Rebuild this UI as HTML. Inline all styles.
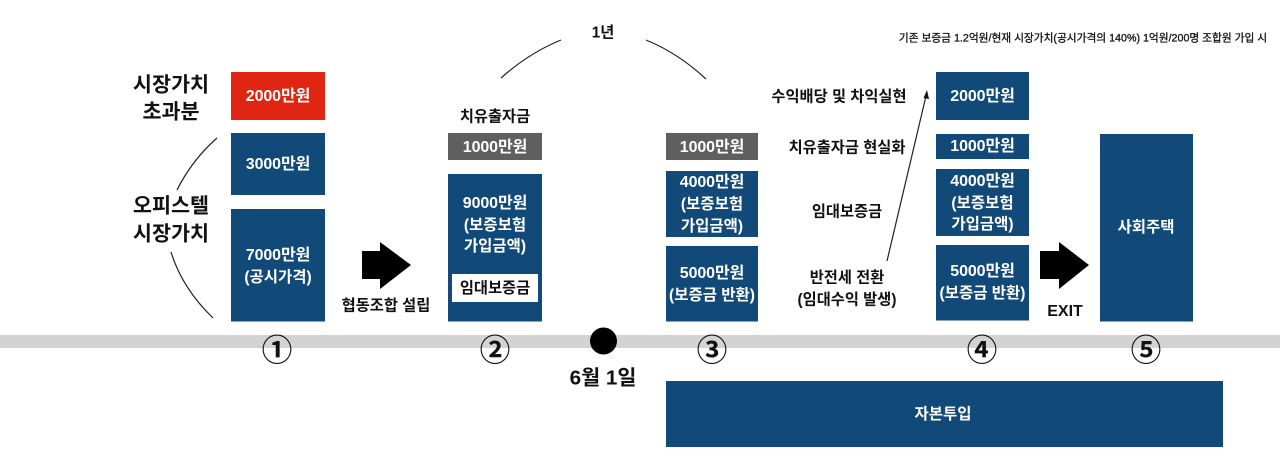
<!DOCTYPE html>
<html lang="ko">
<head>
<meta charset="utf-8">
<style>
html,body{margin:0;padding:0;background:#fff;width:1280px;height:466px;overflow:hidden}
svg{display:block}
text{font-family:"Liberation Sans","Noto Sans CJK KR",sans-serif;font-weight:700;text-anchor:middle;dominant-baseline:central}
.w{fill:#fff;font-size:15.5px;transform:translateY(.7px)}
.m{font-size:16px;letter-spacing:-.1px}
.k{fill:#111;font-size:15.3px;transform:translateY(.8px)}
.h{fill:#111;font-size:20.700px;transform:translateY(.8px)}
.n{fill:#111;font-size:30.500px;font-family:"Noto Sans CJK KR","Liberation Sans",sans-serif;font-weight:700;transform:translateY(-1px)}
.b{fill:#114a79}
path.a{fill:none;stroke:#222;stroke-width:1.2}
</style>
</head>
<body>
<svg width="1280" height="466" viewBox="0 0 1280 466" xmlns="http://www.w3.org/2000/svg">
<rect x="0" y="335" width="1280" height="13" fill="#d3d3d3"/>
<circle cx="603.5" cy="341" r="13.5" fill="#000"/>

<rect x="231" y="72" width="94" height="48" fill="#e02512"/>
<rect class="b" x="231" y="133" width="94" height="62"/>
<rect class="b" x="231" y="209" width="94" height="112.500"/>
<text class="w m" x="278" y="96">2000만원</text>
<text class="w m" x="278" y="164">3000만원</text>
<text class="w m" x="278" y="255">7000만원</text>
<text class="w" x="278" y="277">(공시가격)</text>
<text class="h" x="171" y="84">시장가치</text>
<text class="h" x="171" y="111">초과분</text>
<text class="h" x="171" y="205">오피스텔</text>
<text class="h" x="171" y="233">시장가치</text>
<path class="a" d="M217 138Q192 160 177 190"/>
<path class="a" d="M171 252Q182 288 213 318"/>
<polygon points="362,251 380,251 380,242 411,265 380,289 380,279 362,279" fill="#000"/>
<text class="k" x="386" y="305">협동조합 설립</text>
<text class="n" x="277" y="349">①</text>

<text class="k" x="603" y="32">1년</text>
<path class="a" d="M501 78Q529 53 561 40"/>
<path class="a" d="M646 40Q678 53 706 79"/>

<text class="k" x="495" y="116">치유출자금</text>
<rect x="448" y="133" width="94" height="27" fill="#5f5f5f"/>
<text class="w m" x="495" y="147">1000만원</text>
<rect class="b" x="448" y="174" width="94" height="147.500"/>
<text class="w m" x="495" y="203">9000만원</text>
<text class="w" x="495" y="225">(보증보험</text>
<text class="w" x="495" y="246">가입금액)</text>
<rect x="452" y="274" width="86" height="28" fill="#fff"/>
<text x="495" y="288.500" style="font-size:15.300px;fill:#111">임대보증금</text>
<text class="n" x="495" y="349">②</text>
<text class="h" x="603" y="377">6월 1일</text>

<rect x="666" y="133" width="92" height="27" fill="#5f5f5f"/>
<text class="w m" x="712" y="147">1000만원</text>
<rect class="b" x="666" y="171" width="92" height="66"/>
<text class="w m" x="712" y="182">4000만원</text>
<text class="w" x="712" y="204">(보증보험</text>
<text class="w" x="712" y="226">가입금액)</text>
<rect class="b" x="666" y="246" width="92" height="75.500"/>
<text class="w m" x="712" y="273">5000만원</text>
<text class="w" x="712" y="295">(보증금 반환)</text>
<text class="n" x="712" y="349">③</text>

<rect class="b" x="666" y="381" width="557" height="66"/>
<text class="w" x="943" y="414">자본투입</text>

<text class="k" x="839" y="96">수익배당 및 차익실현</text>
<text class="k" x="847" y="147">치유출자금 현실화</text>
<text class="k" x="847" y="211">임대보증금</text>
<text class="k" x="847" y="277">반전세 전환</text>
<text class="k" x="847" y="299">(임대수익 발생)</text>
<line x1="887" y1="261" x2="926" y2="96" stroke="#222" stroke-width="1.200"/>
<polygon points="927,90 923.500,98 929,99" fill="#111"/>

<rect class="b" x="936" y="72" width="93" height="48"/>
<rect class="b" x="936" y="134" width="93" height="25"/>
<rect class="b" x="936" y="169" width="93" height="67"/>
<rect class="b" x="936" y="245" width="93" height="75.500"/>
<text class="w m" x="982.500" y="96">2000만원</text>
<text class="w m" x="982.500" y="146">1000만원</text>
<text class="w m" x="982.500" y="181">4000만원</text>
<text class="w" x="982.500" y="203">(보증보험</text>
<text class="w" x="982.500" y="224">가입금액)</text>
<text class="w m" x="982.500" y="271">5000만원</text>
<text class="w" x="982.500" y="293">(보증금 반환)</text>
<text class="n" x="982" y="349">④</text>

<polygon points="1040,251 1059,251 1059,242 1089,265 1059,289 1059,279 1040,279" fill="#000"/>
<text x="1065" y="311.500" style="font-size:16px;fill:#111">EXIT</text>

<rect class="b" x="1100" y="134" width="93" height="187.500"/>
<text class="w" x="1146" y="227">사회주택</text>
<text class="n" x="1146" y="349">⑤</text>

<text x="1083" y="38.500" style="font-size:10.700px;fill:#111;font-weight:400;stroke:#111;stroke-width:.3">기존 보증금 1.2억원/현재 시장가치(공시가격의 140%) 1억원/200명 조합원 가입 시</text>
</svg>
</body>
</html>
